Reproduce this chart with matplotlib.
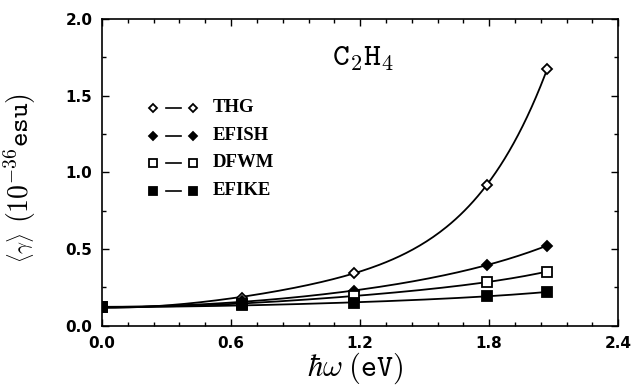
import numpy as np
import matplotlib.pyplot as plt
from matplotlib.ticker import MultipleLocator

plt.rcParams["mathtext.fontset"] = "cm"

# photon energy (eV)
energy = np.array([0.0, 0.65, 1.17, 1.79, 2.07])

# <gamma> (10^-36 esu)
thg = np.array([0.122, 0.180, 0.347, 0.918, 1.674])
efish = np.array([0.122, 0.160, 0.228, 0.397, 0.523])
dfwm = np.array([0.122, 0.145, 0.195, 0.285, 0.354])
efike = np.array([0.122, 0.135, 0.152, 0.193, 0.221])

labels = ["THG", "EFISH", "DFWM", "EFIKE"]
markers = ["D", "D", "s", "s"]
fills = ["white", "black", "white", "black"]
msizes = [5, 5, 7, 7]

fig = plt.figure(figsize=(6.34, 3.87), dpi=100)
ax = fig.add_axes([0.161, 0.158, 0.814, 0.793])

xs = np.linspace(0, energy[-1], 200)
for y, m, fc, ms in zip([thg, efish, dfwm, efike], markers, fills, msizes):
    # smooth dispersion fit in omega^2 through the computed points
    c = np.polyfit(energy**2, y, 3)
    ax.plot(xs, np.polyval(c, xs**2), color="black", lw=1.3)
    ax.plot(energy, y, ls="none", marker=m, ms=ms, mfc=fc, mec="black", mew=1.3)

# hand-made legend: marker - dash - marker, then label
row_y = [0.710, 0.619, 0.531, 0.440]
for ry, lab, m, fc, ms in zip(row_y, labels, markers, fills, msizes):
    ax.plot([0.099, 0.176], [ry, ry], ls="none", marker=m, ms=ms * 0.8, mfc=fc,
            mec="black", mew=1.3, transform=ax.transAxes)
    ax.plot([0.124, 0.152], [ry, ry], color="black", lw=1.2, transform=ax.transAxes)
    ax.text(0.215, ry, lab, transform=ax.transAxes, va="center", ha="left",
            family="Liberation Serif", weight="bold", fontsize=13.5)

ax.text(0.505, 0.875, r"$\mathtt{C_2H_4}$", transform=ax.transAxes, fontsize=23,
        ha="center", va="center")

ax.set_xlim(0, 2.4)
ax.set_ylim(0, 2.0)
ax.xaxis.set_major_locator(MultipleLocator(0.6))
ax.xaxis.set_minor_locator(MultipleLocator(0.12))
ax.yaxis.set_major_locator(MultipleLocator(0.5))
ax.yaxis.set_minor_locator(MultipleLocator(0.25))
ax.tick_params(which="both", direction="in", top=True, right=True, width=1)
ax.tick_params(which="major", length=5, pad=7)
ax.tick_params(which="minor", length=3)
ax.set_xticklabels([f"{v:.1f}" for v in ax.get_xticks()])
ax.set_yticklabels([f"{v:.1f}" for v in ax.get_yticks()])
for t in ax.get_xticklabels() + ax.get_yticklabels():
    t.set_fontweight("bold")
    t.set_fontsize(11)
for s in ax.spines.values():
    s.set_linewidth(1.2)

ax.set_xlabel(r"$\hbar\omega\;\mathtt{(eV)}$", fontsize=22, labelpad=0)
ax.xaxis.set_label_coords(0.49, -0.08)

# y label in two pieces: the bracket part is set larger than <gamma>
ax.text(-0.159, 0.254, r"$\langle\gamma\rangle$", transform=ax.transAxes,
        rotation=90, ha="center", va="center", fontsize=15)
ax.text(-0.159, 0.548, r"$\mathtt{(10^{-36}esu)}$", transform=ax.transAxes,
        rotation=90, ha="center", va="center", fontsize=20)

fig.savefig("out.png", dpi=100)
